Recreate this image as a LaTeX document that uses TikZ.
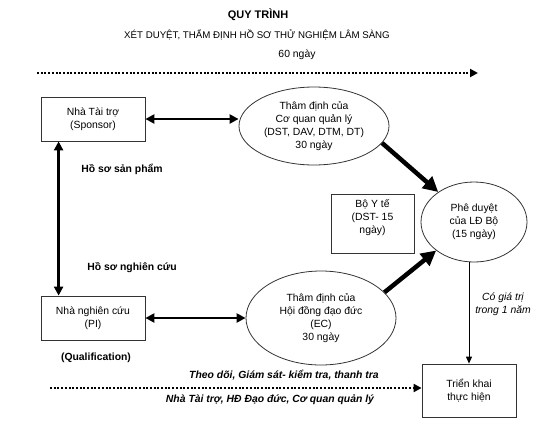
\documentclass[tikz,border=0pt]{standalone}
\usepackage{fontspec}
\setmainfont{Liberation Sans}
\usetikzlibrary{arrows.meta, shapes.geometric, positioning, calc}

\begin{document}
\begin{tikzpicture}[
                                        x=1pt, y=-1pt,
                                        >={Triangle[length=9pt, width=9pt]},
                                        every node/.style={font=\fontsize{10.4}{13}\selectfont, align=center},
                                        box/.style={draw=black!80, line width=0.8pt, inner sep=0pt},
                                        oval/.style={ellipse, draw=black!80, line width=0.8pt, inner sep=0pt},
                                        link/.style={<->, line width=2.6pt},
                                        heavy/.style={->, line width=4.5pt, >={Triangle[length=15pt, width=15pt]}},
                                        dots/.style={->, line width=2pt, dash pattern=on 2pt off 1.7pt, >={Triangle[length=8pt, width=8pt]}},
                                        note/.style={font=\fontsize{10.4}{13}\selectfont\bfseries},
                                ]
                                \useasboundingbox (0,0) rectangle (558,424);
                                % titles
                                \node[font=\fontsize{11}{13}\selectfont\bfseries] (title) at (258,15) {QUY TRÌNH};
                                \node[font=\fontsize{9.7}{13}\selectfont] (subtitle) at (257,35) {XÉT DUYỆT, THẨM ĐỊNH HỒ SƠ THỬ NGHIỆM LÂM SÀNG};
                                \node (days) at (297,55) {60 ngày};
                                \coordinate (t1) at (37,73);
                                \coordinate (t2) at (478,73);
                                \draw[dots] (t1) -- (t2);

                                % boxes and ovals
                                \node[box, minimum width=104pt, minimum height=44pt] (sponsor) at (93,119) {Nhà Tài trợ\\(Sponsor)};
                                \node[box, minimum width=104pt, minimum height=44pt] (pi) at (93,318) {Nhà nghiên cứu\\(PI)};
                                \node[oval, minimum width=150pt, minimum height=78pt] (cq) at (314,126) {Thâm định của\\Cơ quan quản lý\\(DST, DAV, DTM, DT)\\30 ngày};
                                \node[oval, minimum width=150pt, minimum height=94pt] (ec) at (321,318) {Thâm định của\\Hội đồng đạo đức\\(EC)\\30 ngày};
                                \node[box, minimum width=83pt, minimum height=59pt] (boyte) at (372.5,223.5) {};
                                \node[anchor=north, inner sep=6pt] (boytetext) at (boyte.north) {Bộ Y tế\\(DST- 15\\ngày)};
                                \node[oval, minimum width=106pt, minimum height=80pt] (duyet) at (474,222) {Phê duyệt\\của LĐ Bộ\\(15 ngày)};
                                \node[box, minimum width=94pt, minimum height=53pt] (trienkhai) at (469,390.5) {Triển khai\\thực hiện};

                                % connectors
                                \draw[link] (sponsor.east) -- (sponsor.east -| cq.west);
                                \draw[link] (pi.east) -- (pi.east -| ec.west);
                                \draw[link] ([xshift=18pt]sponsor.south west) -- ([xshift=18pt]pi.north west);
                                \draw[heavy] (cq.-14) -- (duyet.140);
                                \draw[heavy] (ec.22) -- (duyet.217);
                                \draw[->, line width=1pt, >={Triangle[length=7pt, width=6pt]}] (duyet.south -| trienkhai.north) -- (trienkhai.north);
                                \coordinate (b1) at (50,388);
                                \draw[dots] (b1) -- (b1 -| trienkhai.west);

                                % labels
                                \node[note] (hssp) at (122,169) {Hồ sơ sản phẩm};
                                \node[note] (hsnc) at (132,268) {Hồ sơ nghiên cứu};
                                \node[note] (qual) at (96,358) {(Qualification)};
                                \node[note, font=\fontsize{10.4}{13}\selectfont\bfseries\itshape] (theo) at (284,375) {Theo dõi, Giám sát- kiểm tra, thanh tra};
                                \node[note, font=\fontsize{10.4}{13}\selectfont\bfseries\itshape] (ben) at (270,400) {Nhà Tài trợ, HĐ Đạo đức, Cơ quan quản lý};
                                \node[font=\fontsize{10.4}{13}\selectfont\itshape] (giatri) at (503,304) {Có giá trị\\trong 1 năm};
                        \end{tikzpicture}
\end{document}
